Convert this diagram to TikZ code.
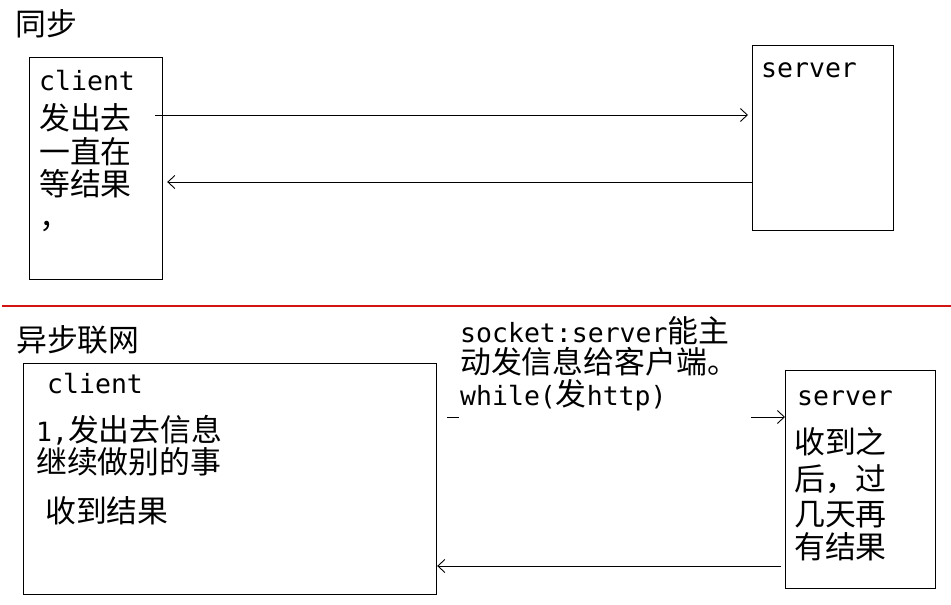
\documentclass[tikz,border=0pt]{standalone}
\usepackage{fontspec}
\setmainfont{DejaVu Sans Mono}
\newfontfamily\cjk[Scale=1.165]{Noto Sans CJK SC}
\usetikzlibrary{arrows.meta}
\definecolor{sepred}{RGB}{210,20,20}
\tikzset{
  box/.style={draw=black, line width=1.2pt, inner sep=0pt, anchor=north west},
  txt/.style={anchor=base west, inner sep=0pt, font=\fontsize{26.5}{32}\selectfont},
  arr/.style={line width=1pt, -{Straight Barb[length=7pt,width=13pt,line width=0.9pt]}},
}
\begin{document}
\begin{tikzpicture}[x=1pt,y=-1pt]
\useasboundingbox (0,0) rectangle (951,605);
\fill[white] (0,0) rectangle (951,605);

% ---------- synchronous ----------
\node[txt] (t0) at (15,35.5) {\cjk 同步};
\node[box, minimum width=133pt, minimum height=222pt] (c1) at (29,57) {};
\node[box, minimum width=141pt, minimum height=185pt] (s1) at (752,45) {};

\node[txt] (c1a) at (39,90) {client};
\node[txt] (c1b) at (39,129.5) {\cjk 发出去};
\node[txt] (c1c) at (39,163) {\cjk 一直在};
\node[txt] (c1d) at (39,195.5) {\cjk 等结果};
\node[txt] (c1e) at (39,228) {\cjk ，};
\node[txt] (s1a) at (761,77) {server};

\coordinate (a1s) at (155,115);
\draw[arr, shorten >=4pt] (a1s) -- (s1.west |- a1s);
\coordinate (a2y) at (0,182);
\draw[arr, shorten >=4pt] (s1.west |- a2y) -- (c1.east |- a2y);

% ---------- separator ----------
\coordinate (r1) at (2,306);
\coordinate (r2) at (951,306);
\draw[sepred, line width=1.4pt] (r1) -- (r2);

% ---------- asynchronous ----------
\node[txt] (t1) at (16,351) {\cjk 异步联网};
\node[box, minimum width=413pt, minimum height=231pt] (c2) at (23,363) {};
\node[box, minimum width=150pt, minimum height=218pt] (s2) at (785,370) {};

\node[txt] (c2a) at (47,393) {client};
\node[txt] (c2b) at (36,441) {1,\cjk 发出去信息};
\node[txt] (c2c) at (36,473.5) {\cjk 继续做别的事};
\node[txt] (c2d) at (45,522) {\cjk 收到结果};

\node[txt] (s2a) at (797,405) {server};
\node[txt] (s2b) at (794,453) {\cjk 收到之};
\node[txt] (s2c) at (794,490) {\cjk 后，过};
\node[txt] (s2d) at (794,525) {\cjk 几天再};
\node[txt] (s2e) at (794,558) {\cjk 有结果};

\coordinate (a3s) at (447,417);
\draw[arr] (a3s) -- (s2.west |- a3s);
\fill[white] (459,316) rectangle (751,424);
\node[txt] (k1) at (460,342) {socket:server\cjk 能主};
\node[txt] (k2) at (460,373) {\cjk 动发信息给客户端。};
\node[txt] (k3) at (460,405) {while(\cjk 发\normalfont http)};

\coordinate (a4s) at (781,566);
\draw[arr] (a4s) -- (c2.east |- a4s);
\end{tikzpicture}
\end{document}
